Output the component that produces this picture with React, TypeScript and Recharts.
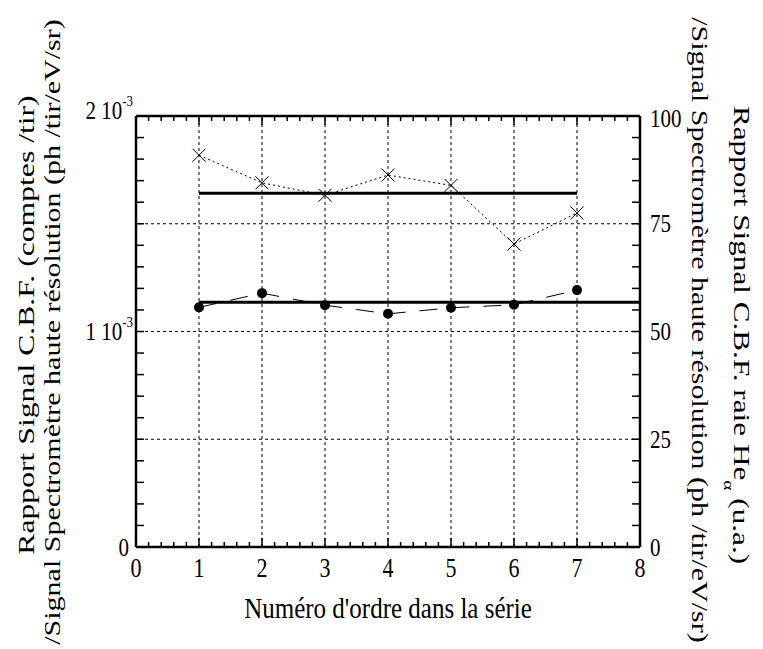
import { LineChart, Line, XAxis, YAxis, ReferenceLine } from "recharts";

// numéro d'ordre des tirs
const ordre = [1, 2, 3, 4, 5, 6, 7];
// rapport C.B.F. / spectromètre (axe gauche, en 10^-3)
const rapportCroix = [1.818, 1.69, 1.632, 1.726, 1.678, 1.406, 1.55];
// rapport C.B.F. raie He alpha (axe droit, u.a.)
const rapportHe = [55.6, 58.9, 56.1, 54.1, 55.5, 56.2, 59.6];
// moyennes tracées en trait épais
const moyenneCroix = 1.642;
const moyenneHe = 56.8;
const debutMoyenne = 1;
const finCroix = 7;
const finHe = 8;

const xGrid = [1, 2, 3, 4, 5, 6, 7];
const leftLabels = [0, 1, 2];
const rightLabels = [0, 25, 50, 75, 100];
const rightGrid = [25, 50, 75];

const xTicks = Array.from({ length: 41 }, (_, i) => i * 0.2);
const leftTicks = Array.from({ length: 21 }, (_, i) => i * 0.1);
const rightTicks = Array.from({ length: 21 }, (_, i) => i * 5);

const data = ordre.map((x, i) => ({ x, croix: rapportCroix[i], he: rapportHe[i] }));
const moyCroixData = [
  { x: debutMoyenne, y: moyenneCroix },
  { x: finCroix, y: moyenneCroix },
];
const moyHeData = [
  { x: debutMoyenne, y: moyenneHe },
  { x: finHe, y: moyenneHe },
];

const FONT = "'Liberation Serif', 'Times New Roman', serif";
// la figure d'origine est étirée verticalement
const STRETCH = 1.2;
const isMajor = (v: number, step: number) => Math.abs(v / step - Math.round(v / step)) < 1e-6;

const BottomTick = (props: any) => {
  const { x, y, payload } = props;
  const major = isMajor(payload.value, 1);
  return (
    <g>
      <line x1={x} y1={y} x2={x} y2={y - (major ? 9 : 5)} stroke="#000" strokeWidth={1.5} />
      {major && (
        <text
          transform={`translate(${x},${y + 21}) scale(1,${STRETCH})`}
          textAnchor="middle"
          dominantBaseline="central"
          fontSize={22}
          fontFamily={FONT}
          fill="#000"
        >
          {Math.round(payload.value)}
        </text>
      )}
    </g>
  );
};

const TopTick = (props: any) => {
  const { x, y, payload } = props;
  const major = isMajor(payload.value, 1);
  return <line x1={x} y1={y} x2={x} y2={y + (major ? 9 : 5)} stroke="#000" strokeWidth={1.5} />;
};

const LeftTick = (props: any) => {
  const { x, y, payload } = props;
  const v = Math.round(payload.value * 10) / 10;
  const label = leftLabels.includes(v);
  const dy = v === 2 ? -6 : 0;
  return (
    <g>
      <line x1={x} y1={y} x2={x + 8} y2={y} stroke="#000" strokeWidth={1.5} />
      {label && (
        <text
          transform={`translate(${x - 3},${y + dy}) scale(1,${STRETCH})`}
          textAnchor="end"
          dominantBaseline="central"
          fontSize={21}
          fontFamily={FONT}
          fill="#000"
        >
          {v === 0 ? (
            <tspan dx={-4}>0</tspan>
          ) : (
            <>
              {`${v} 10`}
              <tspan fontSize={13} dy={-8}>-3</tspan>
            </>
          )}
        </text>
      )}
    </g>
  );
};

const RightTick = (props: any) => {
  const { x, y, payload } = props;
  const v = Math.round(payload.value);
  return (
    <g>
      <line x1={x} y1={y} x2={x - 8} y2={y} stroke="#000" strokeWidth={1.5} />
      {rightLabels.includes(v) && (
        <text
          transform={`translate(${x + 10},${y + (v === 100 ? 2 : 0)}) scale(1,${STRETCH})`}
          textAnchor="start"
          dominantBaseline="central"
          fontSize={21}
          fontFamily={FONT}
          fill="#000"
        >
          {v}
        </text>
      )}
    </g>
  );
};

const Cross = (props: any) => {
  const { cx, cy } = props;
  if (cx == null || cy == null) return <g />;
  const s = 6.5;
  return (
    <path
      d={`M${cx - s},${cy - s}L${cx + s},${cy + s}M${cx - s},${cy + s}L${cx + s},${cy - s}`}
      stroke="#000"
      strokeWidth={1}
      fill="none"
    />
  );
};

const axisLine = { stroke: "#000", strokeWidth: 2.5 };

export default function App() {
  return (
    <div style={{ position: "absolute", left: 0, top: 0, width: 763, height: 649, background: "#fff" }}>
      <LineChart width={763} height={649} data={data} margin={{ top: 0, right: 0, bottom: 0, left: 0 }}>
        <XAxis
          xAxisId="b"
          dataKey="x"
          type="number"
          domain={[0, 8]}
          ticks={xTicks}
          interval={0}
          orientation="bottom"
          height={102}
          tickSize={0}
          tickMargin={0}
          tickLine={false}
          axisLine={axisLine}
          tick={<BottomTick />}
        />
        <XAxis
          xAxisId="t"
          dataKey="x"
          type="number"
          domain={[0, 8]}
          ticks={xTicks}
          interval={0}
          orientation="top"
          height={116}
          tickSize={0}
          tickMargin={0}
          tickLine={false}
          axisLine={axisLine}
          tick={<TopTick />}
        />
        <YAxis
          yAxisId="l"
          type="number"
          domain={[0, 2]}
          ticks={leftTicks}
          interval={0}
          width={136}
          tickSize={0}
          tickMargin={0}
          tickLine={false}
          axisLine={axisLine}
          tick={<LeftTick />}
        />
        <YAxis
          yAxisId="r"
          orientation="right"
          type="number"
          domain={[0, 100]}
          ticks={rightTicks}
          interval={0}
          width={123}
          tickSize={0}
          tickMargin={0}
          tickLine={false}
          axisLine={axisLine}
          tick={<RightTick />}
        />
        {xGrid.map((v) => (
          <ReferenceLine key={`gx${v}`} xAxisId="b" yAxisId="r" x={v} stroke="#000" strokeWidth={1} strokeDasharray="3 3" />
        ))}
        {rightGrid.map((v) => (
          <ReferenceLine key={`gy${v}`} xAxisId="b" yAxisId="r" y={v} stroke="#000" strokeWidth={1} strokeDasharray="3 3" />
        ))}
        <Line
          xAxisId="b"
          yAxisId="l"
          dataKey="croix"
          stroke="#000"
          strokeWidth={1}
          strokeDasharray="2 3"
          dot={(p: any) => <Cross key={`c${p.index}`} {...p} />}
          isAnimationActive={false}
        />
        <Line
          xAxisId="b"
          yAxisId="r"
          dataKey="he"
          stroke="#000"
          strokeWidth={1}
          strokeDasharray="18 14"
          dot={{ r: 5, fill: "#000", stroke: "#000", strokeWidth: 0 }}
          isAnimationActive={false}
        />
        <Line
          xAxisId="b"
          yAxisId="l"
          data={moyCroixData}
          dataKey="y"
          stroke="#000"
          strokeWidth={3}
          dot={false}
          isAnimationActive={false}
        />
        <Line
          xAxisId="b"
          yAxisId="r"
          data={moyHeData}
          dataKey="y"
          stroke="#000"
          strokeWidth={3}
          dot={false}
          isAnimationActive={false}
        />
      </LineChart>
      <svg
        width={763}
        height={649}
        style={{ position: "absolute", left: 0, top: 0, pointerEvents: "none" }}
        fontFamily={FONT}
        fill="#000"
      >
        <text fontSize={24} textAnchor="middle" dominantBaseline="central" transform="translate(26 325) rotate(-90) scale(1.32 1)">
          Rapport Signal C.B.F. (comptes /tir)
        </text>
        <text fontSize={24} textAnchor="middle" dominantBaseline="central" transform="translate(52 332) rotate(-90) scale(1.25 1)">
          /Signal Spectromètre haute résolution (ph /tir/eV/sr)
        </text>
        <text fontSize={24} textAnchor="middle" dominantBaseline="central" transform="translate(742 335) rotate(90) scale(1.3 1)">
          Rapport Signal C.B.F. raie He
          <tspan fontSize={15} dy={13}>α</tspan>
          <tspan dy={-13}>{"  (u.a.)"}</tspan>
        </text>
        <text fontSize={24} textAnchor="middle" dominantBaseline="central" transform="translate(700 330) rotate(90) scale(1.25 1)">
          /Signal Spectromètre haute résolution (ph /tir/eV/sr)
        </text>
        <text fontSize={25} textAnchor="middle" dominantBaseline="central" transform={`translate(388 608) scale(1 ${STRETCH})`}>
          Numéro d'ordre dans la série
        </text>
      </svg>
    </div>
  );
}
